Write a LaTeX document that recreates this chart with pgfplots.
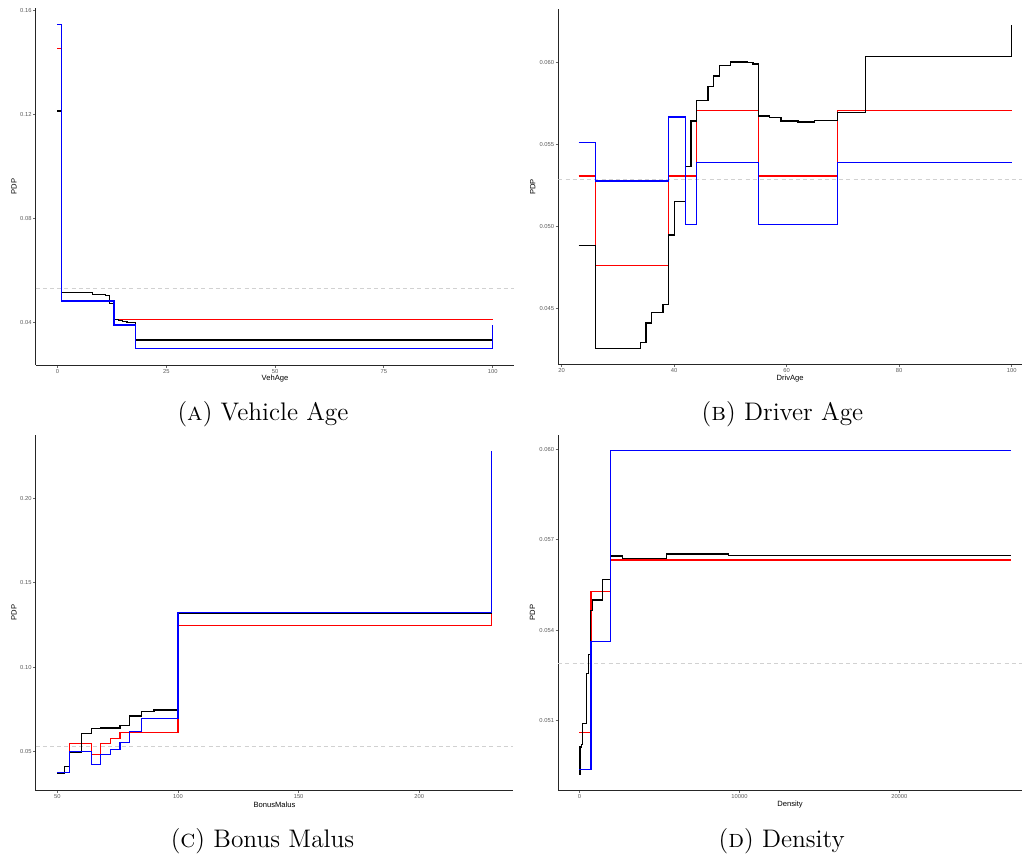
\documentclass[border=0pt]{standalone}
\usepackage{fontspec}
\usepackage{pgfplots}
\pgfplotsset{compat=1.18}
\newfontfamily\arial{Liberation Sans}
\newcommand\tickfont{\arial\fontsize{2.9}{3.4}\selectfont}
\newcommand\titlefont{\arial\fontsize{3.8}{4.5}\selectfont}
\definecolor{pdpred}{RGB}{255,0,0}
\definecolor{pdpblue}{RGB}{0,0,255}
\pgfplotsset{
  pdp/.style={
    scale only axis,
    scaled ticks=false,
    axis x line=bottom, axis y line=left,
    axis line style={-, black!85, line width=0.45pt},
    tick align=outside,
    major tick length=1.3pt,
    major tick style={black!60, line width=0.35pt},
    ticklabel style={font=\tickfont, text=black!65},
    xticklabel style={inner sep=0.6pt},
    yticklabel style={inner sep=0.6pt},
    label style={font=\titlefont, text=black},
    xlabel style={at={([yshift=-7pt]axis description cs:0.5,0)}, anchor=center},
    every axis plot/.append style={const plot, line width=0.65pt, mark=none},
    anchor=south west,
  },
  refline/.style={black!18, dash pattern=on 2pt off 1.6pt, line width=0.4pt, sharp plot},
}
\begin{document}
\begin{tikzpicture}
\path[use as bounding box] (0,0) rectangle (511pt,427pt);

% (A) Vehicle Age
\begin{axis}[pdp, at={(17.85pt,244.5pt)}, width=239.35pt, height=178.25pt,
  xmin=-5, xmax=105, ymin=0.02346, ymax=0.1607,
  xtick={0,25,50,75,100}, xticklabels={0,25,50,75,100},
  ytick={0.04,0.08,0.12,0.16}, yticklabels={0.04,0.08,0.12,0.16},
  xlabel={VehAge}, ylabel={PDP},
  ylabel style={at={([xshift=-10.85pt]axis description cs:0,0.5)}, anchor=center}]
\addplot[refline] coordinates {(-5,0.0529) (105,0.0529)};
\addplot[pdpred] coordinates {(0,0.1454) (1,0.0481) (13,0.0411) (100,0.0411)};
\addplot[black] coordinates {(0,0.1212) (1,0.0514) (8,0.0507) (11,0.0503) (12,0.0472) (13,0.0411) (14,0.0406) (15,0.0402) (16,0.0397) (18,0.0331) (100,0.0331)};
\addplot[pdpblue] coordinates {(0,0.1545) (1,0.0481) (13,0.0388) (18,0.0297) (100,0.0388)};
\end{axis}

% (B) Driver Age
\begin{axis}[pdp, at={(279.15pt,244.85pt)}, width=231.85pt, height=177.5pt,
  xmin=19.4, xmax=101.83, ymin=0.04158, ymax=0.06326,
  xtick={20,40,60,80,100}, xticklabels={20,40,60,80,100},
  ytick={0.045,0.050,0.055,0.060}, yticklabels={0.045,0.050,0.055,0.060},
  xlabel={DrivAge}, ylabel={PDP},
  ylabel style={at={([xshift=-12.8pt]axis description cs:0,0.5)}, anchor=center}]
\addplot[refline] coordinates {(19.4,0.0529) (101.83,0.0529)};
\addplot[pdpred] coordinates {(23,0.05308) (26,0.04762) (39,0.05308) (44,0.05706) (55,0.05308) (69,0.05706) (100,0.05706)};
\addplot[black] coordinates {(23,0.04882) (26,0.04253) (34,0.04292) (35,0.04410) (36,0.04473) (38,0.04524) (39,0.04947) (40,0.05151) (42,0.05365) (43,0.05643) (44,0.05770) (46,0.05853) (47,0.05918) (48,0.05983) (50,0.06004) (53,0.06000) (54,0.05992) (55,0.05674) (57,0.05666) (59,0.05643) (62,0.05637) (65,0.05645) (69,0.05697) (74,0.06036) (100,0.0623)};
\addplot[pdpblue] coordinates {(23,0.05511) (26,0.05277) (39,0.05668) (42,0.05013) (44,0.05389) (55,0.05013) (69,0.05389) (100,0.05389)};
\end{axis}

% (C) Bonus Malus
\begin{axis}[pdp, at={(17.85pt,31.65pt)}, width=238.8pt, height=177.95pt,
  xmin=41, xmax=239, ymin=0.0270, ymax=0.2375,
  xtick={50,100,150,200}, xticklabels={50,100,150,200},
  ytick={0.05,0.10,0.15,0.20}, yticklabels={0.05,0.10,0.15,0.20},
  xlabel={BonusMalus}, ylabel={PDP},
  ylabel style={at={([xshift=-10.85pt]axis description cs:0,0.5)}, anchor=center}]
\addplot[refline] coordinates {(41,0.0529) (239,0.0529)};
\addplot[pdpred] coordinates {(50,0.03796) (55,0.0549) (64,0.04823) (68,0.0549) (72,0.05768) (76,0.06122) (100,0.1246) (230,0.1321)};
\addplot[black] coordinates {(50,0.03718) (53,0.04114) (55,0.04976) (60,0.06063) (64,0.06394) (68,0.06400) (72,0.06410) (76,0.06571) (80,0.07126) (85,0.07397) (90,0.0748) (100,0.1321) (230,0.1321)};
\addplot[pdpblue] coordinates {(50,0.0376) (55,0.0500) (64,0.04232) (68,0.0482) (72,0.0512) (76,0.05567) (80,0.06217) (85,0.06949) (100,0.1324) (230,0.2279)};
\end{axis}

% (D) Density
\begin{axis}[pdp, at={(279.1pt,31.85pt)}, width=231.9pt, height=177.85pt,
  xmin=-1330, xmax=27669, ymin=0.04868, ymax=0.06049,
  xtick={0,10000,20000}, xticklabels={0,10000,20000},
  ytick={0.051,0.054,0.057,0.060}, yticklabels={0.051,0.054,0.057,0.060},
  xlabel={Density}, ylabel={PDP},
  ylabel style={at={([xshift=-12.8pt]axis description cs:0,0.5)}, anchor=center}]
\addplot[refline] coordinates {(-1330,0.0529) (27669,0.0529)};
\addplot[pdpred] coordinates {(0,0.0506) (711,0.05527) (1940,0.05633) (27000,0.05633)};
\addplot[black] coordinates {(0,0.04922) (40,0.05012) (120,0.05020) (200,0.05090) (460,0.05256) (580,0.05319) (710,0.05466) (815,0.05500) (1440,0.05568) (1940,0.05646) (2710,0.05638) (5460,0.05653) (9300,0.05648) (27000,0.05648)};
\addplot[pdpblue] coordinates {(0,0.04937) (711,0.05361) (1940,0.05995) (27000,0.05995)};
\end{axis}

\node[anchor=base, font=\fontsize{12.7}{15}\selectfont] at (131.5pt,216.7pt) {(\textsc{a}) Vehicle Age};
\node[anchor=base, font=\fontsize{12.7}{15}\selectfont] at (391.25pt,216.7pt) {(\textsc{b}) Driver Age};
\node[anchor=base, font=\fontsize{12.7}{15}\selectfont] at (131.25pt,3.35pt) {(\textsc{c}) Bonus Malus};
\node[anchor=base, font=\fontsize{12.7}{15}\selectfont] at (390.85pt,3.35pt) {(\textsc{d}) Density};
\end{tikzpicture}
\end{document}
